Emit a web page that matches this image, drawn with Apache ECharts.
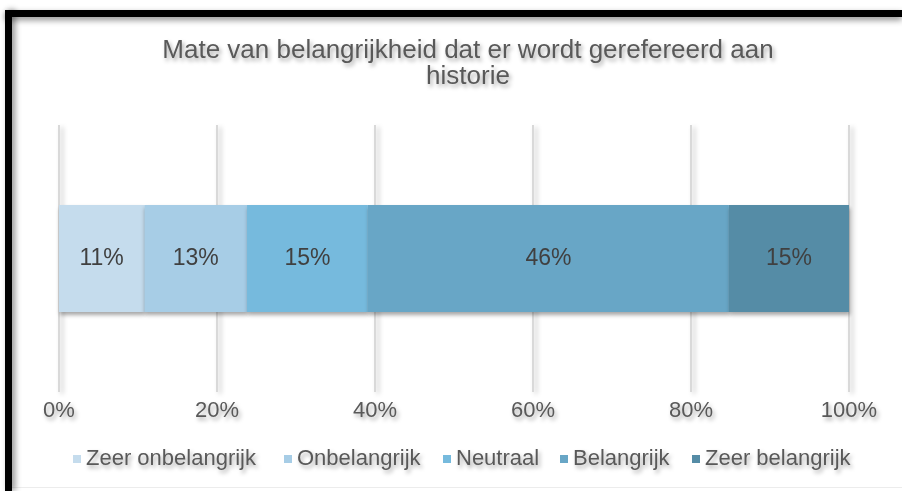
<!DOCTYPE html>
<html>
<head>
<meta charset="utf-8">
<script src="https://cdn.jsdelivr.net/npm/echarts@6/dist/echarts.min.js"></script>
<style>
html,body{margin:0;padding:0;background:#fff;}
#c{width:902px;height:491px;}
</style>
</head>
<body>
<div id="c"></div>
<script>
var titleText = "Mate van belangrijkheid dat er wordt gerefereerd aan\nhistorie";
var categories = ["historie"];
var seriesNames = ["Zeer onbelangrijk", "Onbelangrijk", "Neutraal", "Belangrijk", "Zeer belangrijk"];
var seriesValues = [10.8, 13.0, 15.3, 45.7, 15.2];
var seriesColors = ["#c5dced", "#a7cde6", "#76badd", "#68a6c6", "#558ca6"];
var tickLabels = ["0%", "20%", "40%", "60%", "80%", "100%"];

var FONT = "Liberation Sans, Arial, sans-serif";
var txtShadow = {textShadowColor: "rgba(0,0,0,0.35)", textShadowBlur: 4, textShadowOffsetX: 2, textShadowOffsetY: 3};

var chart = echarts.init(document.getElementById("c"), null, {renderer: "canvas"});

var series = seriesNames.map(function (n, i) {
  return {
    name: n,
    type: "bar",
    stack: "total",
    barWidth: 107,
    data: [seriesValues[i]],
    itemStyle: {
      color: seriesColors[i],
      shadowColor: "rgba(0,0,0,0.35)",
      shadowBlur: 4,
      shadowOffsetX: 1,
      shadowOffsetY: 3
    },
    label: {
      show: true,
      position: "inside",
      fontFamily: FONT,
      fontSize: 23,
      color: "#404040",
      formatter: function (p) { return Math.round(p.value) + "%"; }
    },
    emphasis: {disabled: true}
  };
});

// legend item left positions (layout only)
var legendLeft = [73, 284, 443, 560, 692];
var legends = seriesNames.map(function (n, i) {
  return {
    data: [n],
    bottom: 21,
    left: legendLeft[i],
    padding: 0,
    itemWidth: 8,
    itemHeight: 8,
    icon: "rect",
    selectedMode: false,
    textStyle: Object.assign({
      fontFamily: FONT,
      fontSize: 22,
      color: "#595959",
      padding: [0, 0, 0, 0]
    }, txtShadow)
  };
});

chart.setOption({
  animation: false,
  textStyle: {fontFamily: FONT},
  title: {
    text: titleText,
    left: 463,
    top: 33,
    textAlign: "center",
    textStyle: Object.assign({
      fontFamily: FONT,
      fontSize: 26,
      fontWeight: "normal",
      color: "#595959",
      lineHeight: 26
    }, txtShadow)
  },
  grid: {left: 59, right: 53, top: 125, bottom: 99, containLabel: false},
  xAxis: {
    type: "value",
    min: 0,
    max: 100,
    interval: 20,
    axisLine: {show: false},
    axisTick: {show: false},
    axisLabel: Object.assign({
      fontFamily: FONT,
      fontSize: 22,
      color: "#595959",
      margin: 8,
      formatter: function (v) { return tickLabels[Math.round(v / 20)]; }
    }, txtShadow),
    splitLine: {
      show: true,
      lineStyle: {
        color: "#d9d9d9",
        width: 2,
        shadowColor: "rgba(0,0,0,0.25)",
        shadowBlur: 5,
        shadowOffsetX: 3,
        shadowOffsetY: 2
      }
    }
  },
  yAxis: {
    type: "category",
    data: categories,
    show: false
  },
  legend: legends,
  graphic: [
    {
      type: "rect",
      shape: {x: 5, y: 10, width: 897, height: 7},
      style: {fill: "#000", shadowColor: "rgba(0,0,0,0.45)", shadowBlur: 6, shadowOffsetY: 3},
      z: 100
    },
    {
      type: "rect",
      shape: {x: 5, y: 10, width: 7, height: 481},
      style: {fill: "#000", shadowColor: "rgba(0,0,0,0.45)", shadowBlur: 6, shadowOffsetX: 3},
      z: 100
    },
    {
      type: "rect",
      shape: {x: 12, y: 487, width: 890, height: 1},
      style: {fill: "#ececec"},
      z: 99
    }
  ],
  series: series
});
</script>
</body>
</html>
